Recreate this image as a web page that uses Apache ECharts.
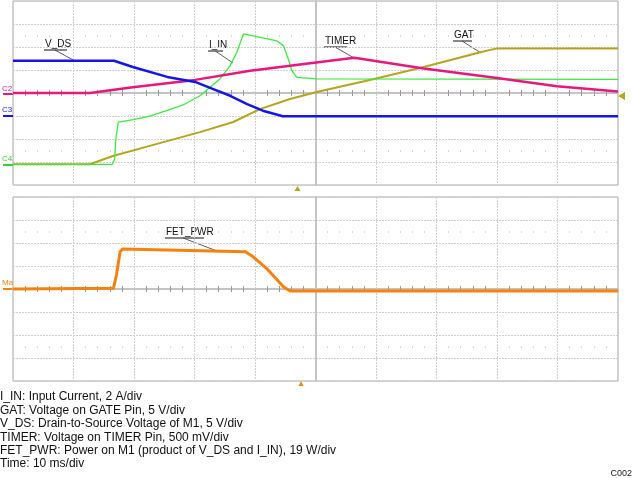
<!DOCTYPE html>
<html>
<head>
<meta charset="utf-8">
<script src="https://cdn.jsdelivr.net/npm/echarts@6/dist/echarts.min.js"></script>
<style>
  html, body { margin: 0; padding: 0; background: #fff; }
  #chart { width: 634px; height: 478px; }
</style>
</head>
<body>
<div id="chart"></div>
<script>
// time in ms (10 ms/div, centre = 0), levels in scope divisions
var vdsT = [-50, -33.3, -30.2, -24.5, -19.9, -16.9, -14.1, -11.3, -8.7, -5.4, 50];
var vdsY = [1.40, 1.40, 1.13, 0.70, 0.48, 0.17, -0.12, -0.48, -0.77, -1.01, -1.01];

var timerT = [-50, -37.3, -30.2, -19.9, -10.8, 0.1, 6.4, 17.9, 30, 39.9, 50];
var timerY = [0, 0, 0.25, 0.57, 0.97, 1.33, 1.53, 1.07, 0.65, 0.29, 0.06];

var iinT = [-50, -33.6, -33.2, -33.0, -32.6, -30.1, -27.4, -24.6, -21.9, -19.1, -17.4, -15.8, -14.1, -13.0, -11.9, -6.4, -5.3, -4.5, -3.9, -3.1, 0.2, 50];
var iinY = [-3.10, -3.10, -2.87, -2.0, -1.27, -1.16, -1.01, -0.77, -0.52, -0.12, 0.25, 0.61, 1.19, 1.77, 2.57, 2.27, 2.06, 1.48, 0.97, 0.68, 0.61, 0.59];

var gatT = [-50, -37.3, -33.5, -27.4, -19.1, -13.6, -9.2, -4.2, 0.2, 9.7, 17.9, 27.4, 30.0, 50];
var gatY = [-3.10, -3.10, -2.74, -2.30, -1.70, -1.26, -0.70, -0.26, 0.04, 0.61, 1.13, 1.78, 1.94, 1.94];

var pwrT = [-50, -33.4, -32.9, -32.3, -31.9, -11.6, -10.3, -8.1, -5.3, -4.2, 50];
var pwrY = [0, 0.03, 0.61, 1.62, 1.74, 1.62, 1.40, 0.90, 0.10, -0.09, -0.09];

var captionLines = [
    'I_IN: Input Current, 2 A/div',
    'GAT: Voltage on GATE Pin, 5 V/div',
    'V_DS: Drain-to-Source Voltage of M1, 5 V/div',
    'TIMER: Voltage on TIMER Pin, 500 mV/div',
    'FET_PWR: Power on M1 (product of V_DS and I_IN), 19 W/div',
    'Time: 10 ms/div'
];

var font = "'Liberation Sans', Arial, sans-serif";

function pairs(t, y) {
    var out = [];
    for (var i = 0; i < t.length; i++) {
        out.push([t[i], y[i]]);
    }
    return out;
}

// one grid gets a centre line with minor ticks both ways, plus two dotted rows
function xAxesFor(g) {
    var base = {
        gridIndex: g, type: 'value', min: -50, max: 50, interval: 10,
        axisLabel: { show: false },
        splitLine: { show: false },
        axisTick: { show: false, inside: true },
        axisLine: { show: false, onZero: false },
        minorTick: { show: true, splitNumber: 5, length: 3, lineStyle: { color: '#9a9a9a', width: 1 } }
    };
    var main = Object.assign({}, base, {
        axisLine: { show: true, onZero: true, lineStyle: { color: '#c4c4c4', width: 2 } },
        splitLine: { show: true, lineStyle: { color: '#cfcfcf', width: 1, type: [2, 1] } },
        minorTick: { show: false }
    });
    var dots = { show: true, splitNumber: 5, length: 1, lineStyle: { color: '#b0b0b0', width: 1 } };
    return [
        main,
        Object.assign({}, base, { position: 'bottom', offset: -92 }),
        Object.assign({}, base, { position: 'top', offset: -92 }),
        Object.assign({}, base, { position: 'top', offset: -34.5, minorTick: dots }),
        Object.assign({}, base, { position: 'bottom', offset: -33.5, minorTick: dots })
    ];
}

function yAxisFor(g) {
    return {
        gridIndex: g, type: 'value', min: -4, max: 4, interval: 1,
        axisLabel: { show: false },
        axisTick: { show: false },
        axisLine: { show: true, onZero: true, lineStyle: { color: '#c4c4c4', width: 2 } },
        splitLine: { show: true, lineStyle: { color: '#cfcfcf', width: 1, type: [2, 1] } }
    };
}

function trace(name, data, color, width, xi, yi, z) {
    return {
        name: name, type: 'line', data: data, xAxisIndex: xi, yAxisIndex: yi,
        showSymbol: false, symbol: 'none', z: z,
        lineStyle: { color: color, width: width },
        emphasis: { disabled: true }
    };
}

function tag(text, x, y, w, tx, ty) {
    return [
        { type: 'text', left: x, top: y - 6, style: { text: text, font: '10px ' + font, fill: '#111' } },
        { type: 'line', shape: { x1: x - 1, y1: y + 5, x2: x + w, y2: y + 5 }, style: { stroke: '#111', lineWidth: 1 } },
        { type: 'line', shape: { x1: x + w * 0.45, y1: y + 5, x2: tx, y2: ty }, style: { stroke: '#333', lineWidth: 0.8 } }
    ];
}

function chan(text, y, ty, color) {
    return [
        { type: 'text', left: 2, top: y, style: { text: text, font: '8px ' + font, fill: color } },
        { type: 'line', shape: { x1: 3, y1: ty, x2: 13, y2: ty }, style: { stroke: color, lineWidth: 2 } }
    ];
}

var graphics = [];
graphics = graphics.concat(
    tag('V_DS', 45, 45, 22, 75, 61),
    tag('I_IN', 209, 46, 14, 233, 63),
    tag('TIMER', 325, 42, 22, 356, 59),
    tag('GAT', 454, 36, 18, 481, 53),
    tag('FET_PWR', 166, 233, 38, 217, 251),
    chan('C2', 85, 94, '#e8177d'),
    chan('C3', 106, 116, '#1515e6'),
    chan('C4', 155, 165, '#3ccf3c'),
    chan('Ma', 279, 289, '#f5820f')
);
graphics.push(
    { type: 'polygon', shape: { points: [[618, 96], [625, 92], [625, 100]] }, style: { fill: '#b5a51d' } },
    { type: 'polygon', shape: { points: [[297.5, 186], [294.5, 191], [300.5, 191]] }, style: { fill: '#b5a51d' } },
    { type: 'polygon', shape: { points: [[301, 381], [298.5, 386], [303.5, 386]] }, style: { fill: '#f5820f' } },
    { type: 'text', right: 2, top: 469, style: { text: 'C002', font: '9px ' + font, fill: '#222' } }
);
for (var i = 0; i < captionLines.length; i++) {
    graphics.push({
        type: 'text', left: 0, top: 391 + i * 13.4,
        style: { text: captionLines[i], font: '12px ' + font, fill: '#111' }
    });
}

var chart = echarts.init(document.getElementById('chart'), null, { renderer: 'canvas' });
chart.setOption({
    animation: false,
    backgroundColor: '#fff',
    grid: [
        { left: 13, top: 1, width: 605, height: 184, show: true, borderColor: '#a8a8a8', borderWidth: 1, backgroundColor: '#fff' },
        { left: 13, top: 197, width: 605, height: 184, show: true, borderColor: '#a8a8a8', borderWidth: 1, backgroundColor: '#fff' }
    ],
    xAxis: xAxesFor(0).concat(xAxesFor(1)),
    yAxis: [yAxisFor(0), yAxisFor(1)],
    series: [
        trace('GAT', pairs(gatT, gatY), '#b5a51d', 2, 0, 0, 2),
        trace('I_IN', pairs(iinT, iinY), '#3ee83e', 1.3, 0, 0, 3),
        trace('TIMER', pairs(timerT, timerY), '#e8177d', 2.5, 0, 0, 4),
        trace('V_DS', pairs(vdsT, vdsY), '#1515e6', 2.5, 0, 0, 5),
        trace('FET_PWR', pairs(pwrT, pwrY), '#f5820f', 3, 5, 1, 2)
    ],
    graphic: graphics
});
</script>
</body>
</html>
